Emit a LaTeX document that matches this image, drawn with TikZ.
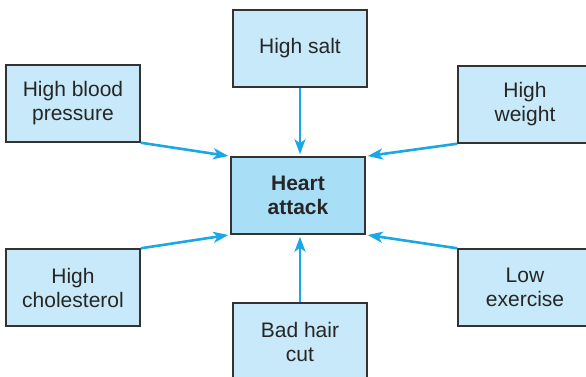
\documentclass[tikz,border=0pt]{standalone}
\usepackage{fontspec}
\setmainfont{Liberation Sans}
\usetikzlibrary{arrows.meta}
\definecolor{boxfill}{HTML}{C8E9F9}
\definecolor{corefill}{HTML}{A9DEF7}
\definecolor{edge}{HTML}{333333}
\definecolor{link}{HTML}{1AA7E6}
\begin{document}
\begin{tikzpicture}[x=1pt,y=-1pt,
  factor/.style={draw=edge,line width=1.4pt,fill=boxfill,minimum width=134pt,
    minimum height=77pt,inner sep=0pt,align=center,
    font=\fontsize{21}{24}\selectfont,text=black!85},
  core/.style={factor,fill=corefill,font=\fontsize{21}{24}\selectfont\bfseries},
  cause/.style={draw=link,line width=2.6pt,
    -{Stealth[length=15pt,width=11pt,inset=4pt]},shorten >=2pt}]
\useasboundingbox (0,0) rectangle (586,376);
\node[core]   (heart) at (298,195.5) {Heart\\attack};
\node[factor] (salt)  at (300,48.5)  {High salt};
\node[factor] (bp)    at (73,103.5)  {High blood\\pressure};
\node[factor] (wt)    at (525,104.5) {High\\weight};
\node[factor] (chol)  at (73,287.5)  {High\\cholesterol};
\node[factor] (ex)    at (525,287.5) {Low\\exercise};
\node[factor] (hair)  at (300,341.5) {Bad hair\\cut};
\draw[cause] (salt.south) -- (salt.south |- heart.north);
\draw[cause] (hair.north) -- (hair.north |- heart.south);
\draw[cause] (bp.south east) -- (heart.north west);
\draw[cause] (wt.south west) -- (heart.north east);
\draw[cause] (chol.north east) -- (heart.south west);
\draw[cause] (ex.north west) -- (heart.south east);
\end{tikzpicture}
\end{document}
